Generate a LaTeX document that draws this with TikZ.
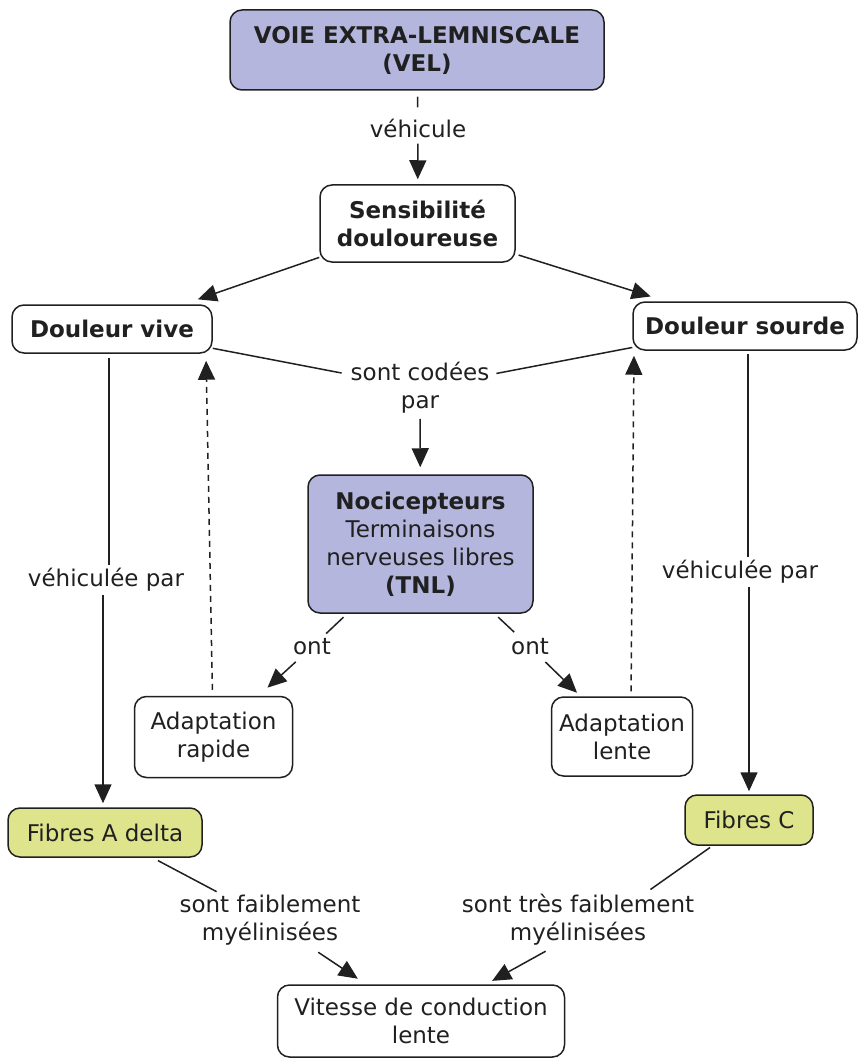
\documentclass[tikz,border=0pt]{standalone}
\usepackage{fontspec}
\setmainfont{DejaVu Sans}
\usetikzlibrary{arrows.meta}
\definecolor{lav}{RGB}{180,182,222}
\definecolor{yel}{RGB}{222,228,140}
\definecolor{ink}{RGB}{32,32,32}
\begin{document}
\begin{tikzpicture}[x=1pt,y=-1pt,
  every node/.style={font=\fontsize{23}{28}\selectfont, text=ink, align=center},
  box/.style={draw=ink, line width=1.5pt, rounded corners=12pt, fill=white, inner sep=0pt},
  concept/.style={box, fill=lav},
  fibre/.style={box, fill=yel},
  lbl/.style={inner sep=3pt},
  ln/.style={draw=ink, line width=1.5pt},
  arr/.style={ln, -{Triangle[length=19pt,width=17pt]}},
  dsh/.style={arr, dash pattern=on 6pt off 5pt}]
\useasboundingbox (0,0) rectangle (859,1059);

% concepts
\node[concept, minimum width=374pt, minimum height=80pt] (vel) at (417,50) {\textbf{VOIE EXTRA-LEMNISCALE}\\\textbf{(VEL)}};
\node[box, minimum width=195pt, minimum height=77pt] (sens) at (417.5,223.5) {\textbf{Sensibilité}\\\textbf{douloureuse}};
\node[box, minimum width=200pt, minimum height=48pt] (dv) at (112,329) {\textbf{Douleur vive}};
\node[box, minimum width=224pt, minimum height=48pt] (ds) at (745,326) {\textbf{Douleur sourde}};
\node[concept, minimum width=225pt, minimum height=138pt] (noc) at (420.5,544) {\textbf{Nocicepteurs}\\Terminaisons\\nerveuses libres\\\textbf{(TNL)}};
\node[box, minimum width=158pt, minimum height=81pt] (ar) at (213.5,737) {Adaptation\\rapide};
\node[box, minimum width=141pt, minimum height=79pt] (al) at (622,736.5) {Adaptation\\lente};
\node[fibre, minimum width=194pt, minimum height=49pt] (fad) at (105,832.5) {Fibres A delta};
\node[fibre, minimum width=128pt, minimum height=50pt] (fc) at (749,820) {Fibres C};
\node[box, minimum width=287pt, minimum height=72pt] (vit) at (421,1021) {Vitesse de conduction\\lente};

% linking phrases
\node[lbl] (l1) at (418,128) {véhicule};
\node[lbl] (l2) at (420,388) {sont codées\\par};
\node[lbl] (l3) at (312,647) {ont};
\node[lbl] (l4) at (530,647) {ont};
\node[lbl] (l5) at (106,580) {véhiculée par};
\node[lbl] (l6) at (740,572) {véhiculée par};
\node[lbl] (l7) at (270,920) {sont faiblement\\myélinisées};
\node[lbl] (l8) at (578,920) {sont très faiblement\\myélinisées};

% links
\draw[ln, shorten <=6pt, shorten >=8pt] (vel) -- (l1);
\draw[arr, shorten <=3pt, shorten >=5pt] (l1) -- (sens);
\draw[arr, shorten >=15pt] (sens) -- (dv);
\draw[arr, shorten <=3pt, shorten >=16pt] (sens) -- (ds);
\draw[ln, shorten >=6pt] (dv) -- (l2);
\draw[ln, shorten >=4pt] (ds) -- (l2);
\draw[arr, shorten <=2pt, shorten >=7pt] (l2) -- (noc);
\draw[ln, shorten <=5pt, shorten >=3pt] (noc) -- (l3);
\draw[arr, shorten <=5pt, shorten >=12pt] (l3) -- (ar);
\draw[ln, shorten <=5pt, shorten >=5pt] (noc) -- (l4);
\draw[arr, shorten <=5pt, shorten >=5pt] (l4) -- (al);
\draw[dsh, shorten <=6pt, shorten >=7pt] ([xshift=-1pt]ar.north) -- ([xshift=94pt]dv.south);
\draw[dsh, shorten <=5pt, shorten >=5pt] ([xshift=9pt]al.north) -- ([xshift=-111pt]ds.south);
\draw[ln, shorten <=4pt] ([xshift=-3pt]dv.south) -- ([xshift=3pt]l5.north);
\draw[arr, shorten >=4pt] ([xshift=-3pt]l5.south) -- ([xshift=-2pt]fad.north);
\draw[ln, shorten <=3pt] ([xshift=3pt]ds.south) -- ([xshift=8pt]l6.north);
\draw[arr, shorten >=3pt] ([xshift=9pt]l6.south) -- (fc.north);
\draw[ln, shorten <=6pt] (fad) -- (l7);
\draw[arr, shorten <=7pt, shorten >=10pt] (l7) -- (vit);
\draw[ln, shorten <=3pt, shorten >=3pt] (fc) -- ([xshift=70pt]l8.north);
\draw[arr, shorten <=5pt, shorten >=7pt] ([xshift=-28pt]l8.south) -- ([xshift=65pt]vit.north);
\end{tikzpicture}
\end{document}
